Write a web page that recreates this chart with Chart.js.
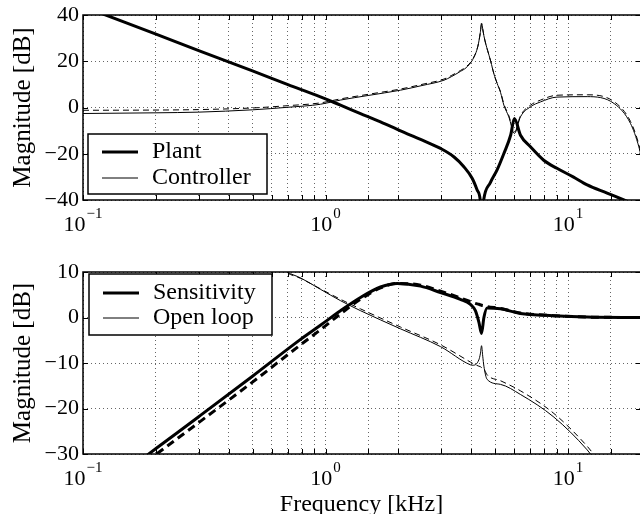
<!DOCTYPE html>
<html>
<head>
<meta charset="utf-8">
<script src="https://cdn.jsdelivr.net/npm/chart.js@4.4.1/dist/chart.umd.min.js"></script>
<style>
  html, body { margin: 0; padding: 0; background: #fff; overflow: hidden; }
  #wrap { position: relative; width: 640px; height: 514px; overflow: hidden; }
  canvas { position: absolute; left: 0; }
  #top { top: 0; }
  #bottom { top: 257px; }
</style>
</head>
<body>
<div id="wrap">
  <canvas id="top" width="641" height="257"></canvas>
  <canvas id="bottom" width="641" height="257"></canvas>
</div>
<script>
// --- top plot: plant and controller magnitude ---
const plantFreq = [0.1, 0.15, 0.2, 0.3, 0.5, 0.7, 0.953, 1.153, 1.394, 1.686, 2.04, 2.466, 2.98, 3.38, 3.72, 4.03, 4.22, 4.35, 4.4, 4.49, 4.79, 5.1, 5.44, 5.8, 6.01, 6.37, 7, 7.94, 9, 10.5, 12, 14.5, 17, 20];
const plantMag = [43.7, 36.7, 31.7, 24.6, 15.8, 9.9, 4.6, 1.0, -2.6, -6.2, -10.1, -13.8, -17.7, -21.3, -25.6, -30.7, -35.7, -40.5, -50, -40, -32.4, -27, -19.9, -12, -4.8, -12, -17, -22.8, -26.3, -30, -33.5, -37, -40, -43];

const ctrlFreq = [0.1, 0.2, 0.3, 0.5, 0.7, 0.953, 1.15, 1.5, 2.04, 2.5, 3.08, 3.3, 3.6, 3.8, 4.05, 4.25, 4.35, 4.4, 4.45, 4.5, 4.58, 4.66, 4.8, 4.95, 5.1, 5.27, 5.44, 5.7, 6.01, 6.37, 7, 7.7, 9, 12, 15.5, 18.1, 19.6, 20];
const ctrlMag = [-2.6, -2.3, -2.0, -1.0, 0.1, 1.4, 3.2, 5.2, 7.5, 9.5, 11.8, 13.3, 15.6, 17.2, 20.8, 26.5, 32.5, 36.5, 34, 31, 27.5, 24.7, 20, 14.5, 10.5, 6.5, 1, -4, -11.2, -4, 0.3, 2.4, 4.5, 4.7, 1.7, -6.9, -17, -21];
const ctrlModelMag = [-1.2, -1.1, -0.9, -0.2, 0.8, 2.0, 3.7, 5.7, 8.0, 10.0, 12.3, 13.8, 16.0, 17.6, 21.0, 26.5, 32.3, 36, 33.8, 31, 27.5, 24.7, 20, 14.5, 10.5, 6.8, 1.5, -3.5, -10.8, -3.5, 1.0, 3.2, 5.3, 5.5, 2.5, -6, -16, -20];

// --- bottom plot: sensitivity and open loop ---
const sensFreq = [0.15, 0.2, 0.3, 0.5, 0.789, 0.953, 1.153, 1.394, 1.686, 1.975, 2.466, 2.98, 3.6, 3.96, 4.15, 4.29, 4.4, 4.5, 4.64, 5.27, 6.36, 8.7, 12, 20];
const sensMag = [-33.8, -28.8, -21.8, -12.9, -4.8, -1.7, 1.5, 4.4, 6.7, 7.5, 6.9, 5.5, 4.0, 2.9, 1.5, -1, -3.5, 0, 2.1, 1.9, 0.9, 0.4, 0.1, 0];
const sensModelMag = [-35.1, -30.1, -23.1, -14.2, -6.0, -2.7, 0.8, 4.0, 6.5, 7.5, 7.1, 5.8, 4.3, 3.5, 3.1, 2.9, 2.7, 2.6, 2.4, 2.0, 1.0, 0.4, 0.1, 0];

const openFreq = [0.6, 0.695, 0.789, 0.953, 1.153, 1.394, 2.04, 2.98, 3.96, 4.05, 4.29, 4.35, 4.4, 4.45, 4.5, 4.64, 5.27, 6.36, 8.75, 12, 13];
const openMag = [12.5, 10, 8.7, 6.2, 3.7, 1.5, -2.5, -6.4, -10.4, -10.5, -9.3, -8, -6.2, -8.5, -10.7, -13.6, -14.7, -16.9, -21.9, -29.1, -31.5];
const openModelMag = [12.3, 9.8, 8.6, 6.3, 4.0, 1.9, -2.1, -6.0, -9.8, -10.1, -10.7, -10.8, -11.0, -11.1, -11.3, -12.6, -13.9, -16.1, -21.1, -28.3, -30.6];

const xLabelTicks = [0.1, 1, 10];
const xLabelExp = ['\u22121', '0', '1'];

const FONT = "'Liberation Serif', 'Times New Roman', serif";
const gridColor = 'rgba(0,0,0,0.6)';

function pts(xs, ys) {
    return xs.map((x, i) => ({ x: x, y: ys[i] }));
}

function line(label, xs, ys, width, dash) {
    return {
        label: label,
        data: pts(xs, ys),
        borderColor: '#000',
        borderWidth: width,
        borderDash: dash || [],
        pointRadius: 0,
        cubicInterpolationMode: 'monotone',
        fill: false,
        clip: 0
    };
}

// box, inward ticks, superscript x labels, axis titles and legend (matlab look)
const matlabFrame = {
    id: 'matlabFrame',
    afterDraw(chart, args, opts) {
        const ctx = chart.ctx, a = chart.chartArea;
        const xs = chart.scales.x, ys = chart.scales.y;
        ctx.save();
        ctx.strokeStyle = '#000';
        ctx.lineWidth = 1;
        ctx.beginPath();
        xs.ticks.forEach(t => {
            const px = Math.round(xs.getPixelForValue(t.value)) + 0.5;
            ctx.moveTo(px, a.bottom); ctx.lineTo(px, a.bottom - 5);
            ctx.moveTo(px, a.top); ctx.lineTo(px, a.top + 5);
        });
        ys.ticks.forEach(t => {
            const py = Math.round(ys.getPixelForValue(t.value)) + 0.5;
            ctx.moveTo(a.left, py); ctx.lineTo(a.left + 5, py);
            ctx.moveTo(a.right, py); ctx.lineTo(a.right - 5, py);
        });
        ctx.stroke();
        ctx.lineWidth = 1.5;
        ctx.strokeRect(a.left, a.top, a.right - a.left, a.bottom - a.top);

        // x tick labels 10^n
        ctx.fillStyle = '#000';
        ctx.textBaseline = 'middle';
        ctx.textAlign = 'left';
        xLabelTicks.forEach((v, i) => {
            const px = xs.getPixelForValue(v);
            ctx.font = '22px ' + FONT;
            const w10 = ctx.measureText('10').width;
            ctx.font = '15px ' + FONT;
            const we = ctx.measureText(xLabelExp[i]).width;
            const x0 = px - (w10 + 1 + we) / 2;
            ctx.font = '22px ' + FONT;
            ctx.fillText('10', x0, a.bottom + 25);
            ctx.font = '15px ' + FONT;
            ctx.fillText(xLabelExp[i], x0 + w10 + 1, a.bottom + 14);
        });

        // y title
        ctx.font = '25px ' + FONT;
        ctx.textAlign = 'center';
        ctx.save();
        ctx.translate(23, (a.top + a.bottom) / 2);
        ctx.rotate(-Math.PI / 2);
        ctx.fillText(opts.yTitle, 0, 0);
        ctx.restore();

        if (opts.xTitle) {
            ctx.font = '24px ' + FONT;
            ctx.textBaseline = 'alphabetic';
            ctx.fillText(opts.xTitle, (a.left + 640) / 2, opts.xTitleY);
        }

        // legend
        const lb = opts.legend;
        ctx.fillStyle = '#fff';
        ctx.fillRect(lb.x, lb.y, lb.w, lb.h);
        ctx.lineWidth = 1.5;
        ctx.strokeRect(lb.x, lb.y, lb.w, lb.h);
        const items = chart.data.datasets.filter(d => d.borderDash.length === 0);
        ctx.font = '24px ' + FONT;
        ctx.textAlign = 'left';
        ctx.textBaseline = 'middle';
        items.forEach((d, i) => {
            const yy = lb.rows[i];
            ctx.lineWidth = d.borderWidth;
            ctx.beginPath();
            ctx.moveTo(lb.x + 14, yy);
            ctx.lineTo(lb.x + 50, yy);
            ctx.stroke();
            ctx.fillStyle = '#000';
            ctx.fillText(d.label, lb.x + 64, yy);
        });
        ctx.restore();
    }
};

function makeOptions(yMin, yMax, yStep, topPad, xHeight, frame) {
    return {
        responsive: false,
        animation: false,
        devicePixelRatio: 1,
        layout: { padding: { top: topPad, left: 0, right: 0, bottom: 0 } },
        plugins: {
            legend: { display: false },
            tooltip: { enabled: false },
            matlabFrame: frame
        },
        scales: {
            x: {
                type: 'logarithmic',
                min: 0.1,
                max: 20,
                ticks: { display: false },
                grid: { color: gridColor, lineWidth: 1, drawTicks: false },
                border: { display: false, dash: [1, 3] },
                afterFit: s => { s.height = xHeight; }
            },
            y: {
                min: yMin,
                max: yMax,
                ticks: {
                    stepSize: yStep,
                    color: '#000',
                    padding: 4,
                    font: { family: FONT, size: 22, lineHeight: 1 },
                    callback: v => String(v).replace('-', '\u2212')
                },
                grid: { color: gridColor, lineWidth: 1, drawTicks: false },
                border: { display: false, dash: [1, 3] },
                afterFit: s => { s.width = 83; }
            }
        }
    };
}

new Chart(document.getElementById('top'), {
    type: 'line',
    data: {
        datasets: [
            line('Plant', plantFreq, plantMag, 3),
            line('Controller', ctrlFreq, ctrlMag, 1),
            line('Controller model', ctrlFreq, ctrlModelMag, 1, [6, 4])
        ]
    },
    options: makeOptions(-40, 40, 20, 15, 57, {
        yTitle: 'Magnitude [dB]',
        legend: { x: 88, y: 134, w: 179, h: 60, rows: [152, 178] }
    }),
    plugins: [matlabFrame]
});

new Chart(document.getElementById('bottom'), {
    type: 'line',
    data: {
        datasets: [
            line('Sensitivity', sensFreq, sensMag, 3),
            line('Sensitivity model', sensFreq, sensModelMag, 3, [8, 5]),
            line('Open loop', openFreq, openMag, 1),
            line('Open loop model', openFreq, openModelMag, 1, [6, 4])
        ]
    },
    options: makeOptions(-30, 10, 10, 12, 60, {
        yTitle: 'Magnitude [dB]',
        xTitle: 'Frequency [kHz]',
        xTitleY: 254,
        legend: { x: 89, y: 17, w: 183, h: 61, rows: [36, 61] }
    }),
    plugins: [matlabFrame]
});
</script>
</body>
</html>
